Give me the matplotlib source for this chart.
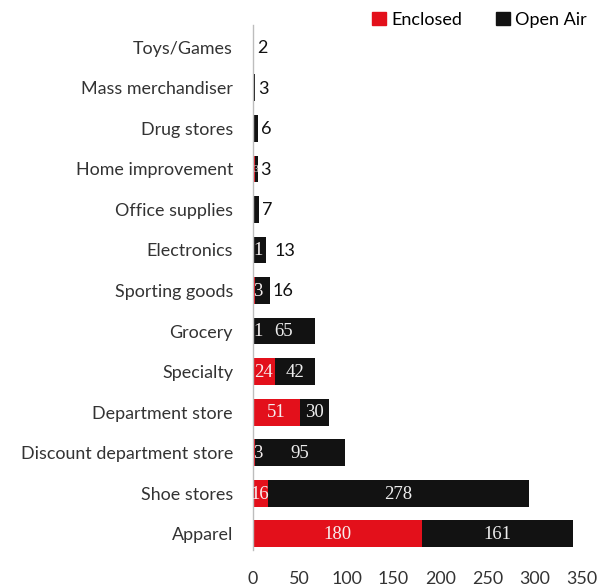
import matplotlib
matplotlib.use("Agg")
import matplotlib.pyplot as plt
from matplotlib.patches import Patch

categories = ["Toys/Games", "Mass merchandiser", "Drug stores", "Home improvement",
              "Office supplies", "Electronics", "Sporting goods", "Grocery",
              "Specialty", "Department store", "Discount department store",
              "Shoe stores", "Apparel"]
enclosed = [0, 0, 0, 3, 0, 1, 3, 1, 24, 51, 3, 16, 180]
open_air = [2, 3, 6, 3, 7, 13, 16, 65, 42, 30, 95, 278, 161]
x_ticks = [0, 50, 100, 150, 200, 250, 300, 350]

RED = "#e3101b"
BLACK = "#121212"
SANS = ["Lato", "DejaVu Sans"]
SERIF = ["Liberation Serif", "DejaVu Serif"]

W, H = 607, 588
fig = plt.figure(figsize=(W / 100, H / 100), dpi=100)
left, right, top, bottom = 252.5, 581.5, 25, 550
ax = fig.add_axes([left / W, 1 - bottom / H, (right - left) / W, (bottom - top) / H])

y = list(range(len(categories)))
ax.barh(y, enclosed, height=0.66, color=RED, zorder=2)
ax.barh(y, open_air, left=enclosed, height=0.66, color=BLACK, zorder=2)

ax.set_xlim(0, 350)
ax.set_ylim(12.4, -0.55)

px = 350 / (right - left)  # data units per pixel

for i, (e, o) in enumerate(zip(enclosed, open_air)):
    # enclosed value
    if e > 0:
        if e < 5:
            fs = 7 if i == 3 else 13.5
            ax.text(0.6 * px, i + 0.02, str(e), ha="left", va="center", fontsize=fs,
                    color="#f4eeee", family=SERIF, zorder=3)
        else:
            ax.text(e / 2, i + 0.02, str(e), ha="center", va="center", fontsize=13.5,
                    color="#f7eeee", family=SERIF, zorder=3)
    # open-air value
    if o >= 25:
        ax.text(e + o / 2, i + 0.02, str(o), ha="center", va="center", fontsize=13.5,
                color="#eeeeee", family=SERIF, zorder=3)
    else:
        off = 9 if i == 5 else 2.5
        ax.text(e + o + off * px, i + 0.02, str(o), ha="left", va="center",
                fontsize=13, color="#111111", family=SANS, zorder=3)

ax.set_yticks(y)
ax.set_yticklabels(categories, family=SANS, fontsize=12.9, color="#333333")
ax.set_xticks(x_ticks)
ax.set_xticklabels([str(t) for t in x_ticks], family=SANS, fontsize=12.9, color="#333333")
ax.tick_params(axis="y", length=0, pad=14)
ax.tick_params(axis="x", length=0, pad=15)

for s in ["top", "right", "bottom"]:
    ax.spines[s].set_visible(False)
ax.spines["left"].set_color("#bdbdbd")
ax.spines["left"].set_linewidth(1.0)

handles = [Patch(color=RED, label="Enclosed"), Patch(color=BLACK, label="Open Air")]
fig.legend(handles=handles, loc="center left", bbox_to_anchor=(356 / W, 1 - 20 / H),
           ncol=2, frameon=False, handlelength=0.75, handleheight=0.75,
           handletextpad=0.3, columnspacing=1.9,
           prop={"family": SANS, "size": 13})

fig.savefig("out.png", dpi=100)
